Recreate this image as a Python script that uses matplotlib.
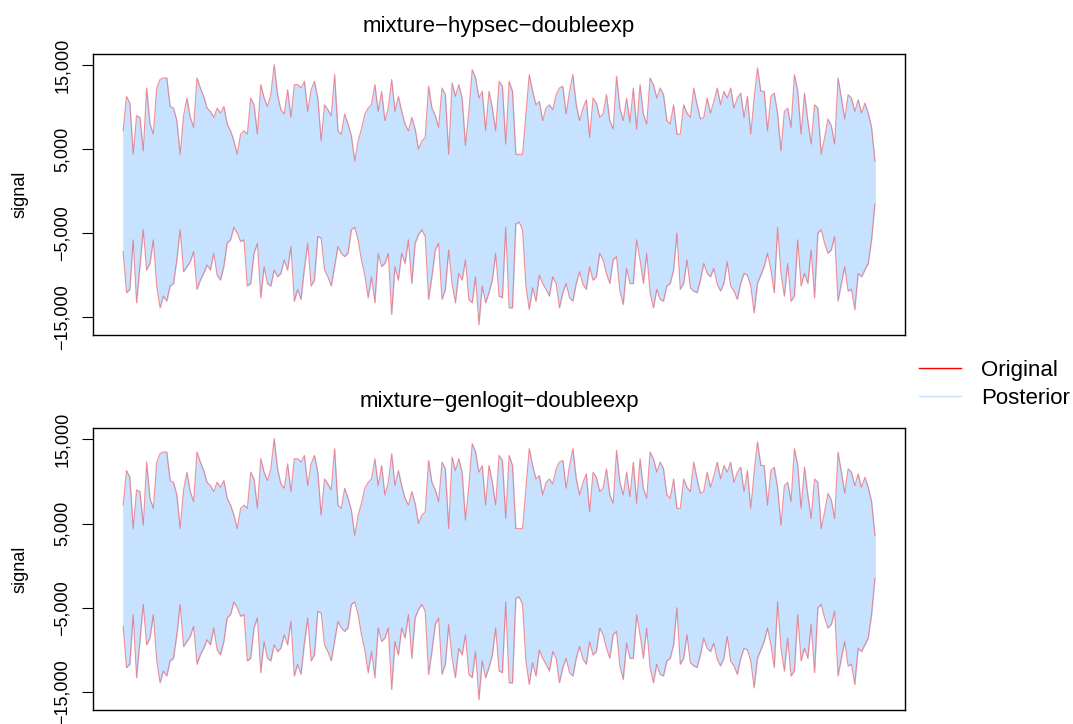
import numpy as np
import matplotlib.pyplot as plt
from matplotlib.lines import Line2D

plt.rcParams['font.family'] = ['Liberation Sans', 'DejaVu Sans']

# per-column peaks of the waveform (signal units), left to right
signal_upper = [
    7200, 11300, 10500, 4400, 9000, 8800, 4800, 12300, 8000, 6800, 12300, 13300, 13500,
    13500, 10100, 9900, 8400, 4400, 9000, 11100, 8800, 7600, 13500, 12300, 11300, 9900,
    9500, 8800, 9900, 9300, 10100, 8000, 7200, 6000, 4400, 6800, 7200, 6800, 11100, 10300,
    6800, 12700, 11100, 10100, 11500, 15100, 11500, 9700, 9200, 12100, 8800, 12700,
    12700, 12300, 13100, 9500, 12100, 13100, 11100, 6000, 10300, 9700, 9000, 13900, 7200,
    6800, 9200, 8000, 6600, 3600, 6000, 7400, 9200, 9900, 10300, 12700, 9500, 11900, 8400,
    9900, 13300, 9500, 11300, 9500, 8000, 7200, 8800, 7400, 5000, 6000, 6400, 12500, 9900,
    9000, 7600, 12300, 11500, 4400, 12900, 11300, 12700, 11100, 5400, 9500, 14500, 13500,
    11100, 11900, 7200,
    11900, 9900, 7200, 13100, 12500, 5600, 13100, 11900, 4400, 4400, 4400, 9200, 13900,
    11900, 10300, 10700, 8400, 9900, 10300, 9700, 11500, 12300, 12500, 9200, 11900, 13900,
    10300, 8400, 9900, 10900, 6400, 11100, 10500, 8800, 9200, 11500, 8400, 7400, 13700,
    9900, 8400, 11100, 8200, 12300, 7400, 12700, 9200, 8000, 13500, 12700, 11100, 12300,
    11500, 8400, 8000, 10300, 6800,
    6800, 10300, 9300, 8800, 12300, 10300, 8600, 8800, 11100, 9300, 10700, 12300, 10300,
    11900, 11100, 12300, 9900, 11100, 11700, 8800, 11300, 6800, 11100, 14700, 11900, 11900,
    7200, 11300, 11700, 9200, 4800, 9500, 9900, 7600, 13900, 11900, 6800, 11700, 8400,
    5600, 10300, 9900, 4400, 6400, 8600, 7800, 5600, 13500, 11100, 8600, 11500, 11100,
    9500, 10900, 9300, 10500, 9300, 7600, 3600,
]

# per-column troughs of the waveform (signal units), left to right
signal_lower = [
    -7200, -12100, -11700, -5800, -13300, -9000, -4600, -9400, -8600, -5800, -11300, -13900,
    -12500, -13100, -11300, -11000, -8200, -4600, -9600, -9000, -8400, -7200, -11700,
    -10600, -9800, -8800, -9400, -7400, -10000, -10600, -9000, -6200, -5800, -4300, -5000,
    -6000, -5800, -11300, -11000, -7400, -6200, -12700, -9000, -11000, -11300, -9400,
    -10200, -9800, -8200, -9400, -6600, -13100,
    -11700, -12900, -9200, -6200, -11300, -10600, -5400, -5600, -9400, -10200, -11300,
    -9000, -6600, -7400, -7800, -7400, -4600, -4300, -5800, -8200, -10000, -12700, -10200,
    -13300, -7400, -9000, -8600, -7400, -14700, -9000, -10600, -7400, -8600, -5800, -11000,
    -6200, -5200, -4600, -5400, -12900, -10200, -7000, -6200, -12900, -11700, -7000,
    -11000, -13300, -9800, -10600, -8200, -12900, -13300, -10200, -15900, -11300, -13300,
    -12100, -10600, -7400, -12500, -12700, -4300, -13900, -13900, -3900, -3700, -4600,
    -11300, -14100, -11500, -13100, -10000, -11000, -11700, -12500, -10200, -11000, -13900,
    -12100, -11000, -12700, -13100, -11000, -9600, -11100, -11700, -9000, -10600, -10200,
    -7400, -8200, -9800, -11000, -8200, -7800, -11900, -13500, -9200, -11000, -11000,
    -5800, -8200, -11000, -7400, -12100, -13900, -11700, -12900, -13100, -11300, -11000,
    -9400, -5000,
    -11700, -11000, -8200, -11500, -11900, -12100, -10600, -8600, -9800, -10200, -9200,
    -11100, -11900, -11000, -8400, -11300, -11900, -12900, -11000, -9800, -10000, -11300,
    -14500, -11000, -10000, -9000, -7400, -9400, -12100, -4300, -9800, -12500, -8600,
    -13100, -12500, -5800, -11300, -9800, -11000, -7000, -12700, -5000, -4600, -6200,
    -7400, -7000, -5400, -13100, -11000, -9000, -11900, -11700, -14100, -9800, -10200,
    -9400, -8600, -5800, -1500,
]

model_titles = ['mixture\u2212hypsec\u2212doubleexp', 'mixture\u2212genlogit\u2212doubleexp']
y_ticks = [-15000, -5000, 5000, 15000]
legend_labels = ['Original', 'Posterior']

ORIGINAL_COLOR = '#FF0000'
POSTERIOR_COLOR = '#C6E2FF'

fig = plt.figure(figsize=(10.73, 7.24), dpi=100)
panel_boxes = [
    [0.0867, 0.5373, 0.7567, 0.3881],
    [0.0867, 0.0193, 0.7567, 0.3895],
]

x = np.arange(len(signal_upper))
for title, box in zip(model_titles, panel_boxes):
    ax = fig.add_axes(box)
    # original underneath; the posterior covers most of it, leaving a thin rim
    ax.plot(x, signal_upper, color=ORIGINAL_COLOR, lw=0.8, alpha=0.4)
    ax.plot(x, signal_lower, color=ORIGINAL_COLOR, lw=0.8, alpha=0.4)
    ax.fill_between(x, signal_lower, signal_upper, facecolor=POSTERIOR_COLOR,
                    edgecolor=POSTERIOR_COLOR, lw=0.55)
    ax.margins(x=0.04, y=0.04)

    ax.set_xticks([])
    ax.set_yticks(y_ticks)
    ax.set_yticklabels([f'{v:,}'.replace('-', '\u2212') for v in y_ticks],
                       rotation=90, va='center', fontsize=13)
    ax.tick_params(axis='y', length=8, width=0.8, pad=8)
    for side in ax.spines.values():
        side.set_linewidth(1.0)
    ax.set_ylabel('signal', fontsize=13)
    ax.yaxis.set_label_coords(-0.079, 0.5)
    ax.set_title(title, fontsize=16, pad=15.5)

handles = [Line2D([], [], color=ORIGINAL_COLOR, lw=1.0),
           Line2D([], [], color=POSTERIOR_COLOR, lw=1.0)]
fig.legend(handles, legend_labels, loc='center left', bbox_to_anchor=(0.846, 0.469),
           frameon=False, fontsize=16, handlelength=1.9, handletextpad=0.9,
           labelspacing=0.3, borderpad=0)

fig.savefig('out.png', dpi=100)
